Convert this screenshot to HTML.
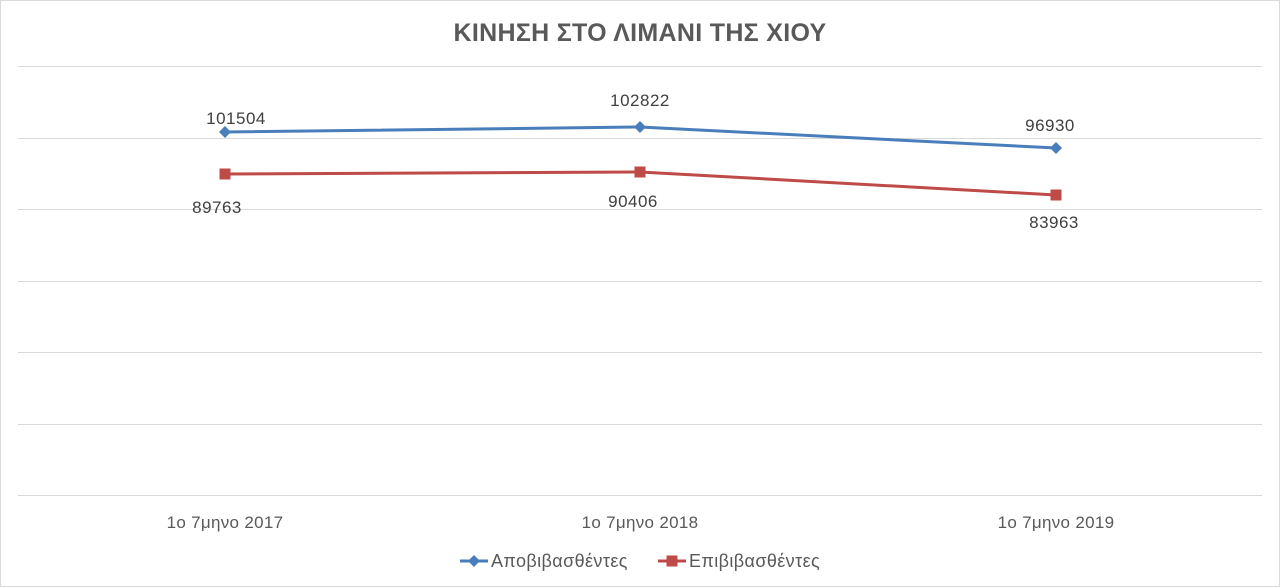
<!DOCTYPE html>
<html><head><meta charset="utf-8"><style>
html,body{margin:0;padding:0;background:#fff;}
svg{display:block;font-family:"Liberation Sans","DejaVu Sans",sans-serif;}
</style></head><body>
<svg width="1280" height="587" viewBox="0 0 1280 587" xmlns="http://www.w3.org/2000/svg">
<rect x="0.5" y="0.5" width="1279" height="586" fill="#fff" stroke="#d9d9d9"/>
<text x="640" y="41" text-anchor="middle" font-size="25" font-weight="bold" fill="#595959" letter-spacing="0.3">ΚΙΝΗΣΗ ΣΤΟ ΛΙΜΑΝΙ ΤΗΣ ΧΙΟΥ</text>
<g stroke="#d9d9d9" stroke-width="1">
<line x1="18" x2="1262" y1="66.5" y2="66.5"/>
<line x1="18" x2="1262" y1="138.5" y2="138.5"/>
<line x1="18" x2="1262" y1="209.5" y2="209.5"/>
<line x1="18" x2="1262" y1="281.5" y2="281.5"/>
<line x1="18" x2="1262" y1="352.5" y2="352.5"/>
<line x1="18" x2="1262" y1="424.5" y2="424.5"/>
<line x1="18" x2="1262" y1="495.5" y2="495.5"/>
</g>
<polyline points="225,132 640,127 1056,148" fill="none" stroke="#4a7ebb" stroke-width="3" stroke-linejoin="round"/>
<g fill="#4a7ebb">
<polygon points="225,126 231,132 225,138 219,132"/>
<polygon points="640,121 646,127 640,133 634,127"/>
<polygon points="1056,142 1062,148 1056,154 1050,148"/>
</g>
<polyline points="225,174 640,172 1056,195" fill="none" stroke="#be4b48" stroke-width="3" stroke-linejoin="round"/>
<g fill="#be4b48">
<rect x="219.5" y="168.5" width="11" height="11"/>
<rect x="634.5" y="166.5" width="11" height="11"/>
<rect x="1050.5" y="189.5" width="11" height="11"/>
</g>
<g font-size="17" fill="#404040" text-anchor="middle" letter-spacing="0.5">
<text x="236" y="124">101504</text>
<text x="640" y="106">102822</text>
<text x="1050" y="131">96930</text>
<text x="217" y="213">89763</text>
<text x="633" y="207">90406</text>
<text x="1054" y="228">83963</text>
</g>
<g font-size="17" fill="#595959" text-anchor="middle" letter-spacing="0.3">
<text x="225" y="528">1ο 7μηνο 2017</text>
<text x="640" y="528">1ο 7μηνο 2018</text>
<text x="1056" y="528">1ο 7μηνο 2019</text>
</g>
<line x1="460" x2="488" y1="561" y2="561" stroke="#4a7ebb" stroke-width="3"/>
<polygon points="474,555 480,561 474,567 468,561" fill="#4a7ebb"/>
<text x="491" y="567" font-size="18" fill="#595959" letter-spacing="0.4">Αποβιβασθέντες</text>
<line x1="658" x2="686" y1="561" y2="561" stroke="#be4b48" stroke-width="3"/>
<rect x="666.5" y="555.5" width="11" height="11" fill="#be4b48"/>
<text x="689" y="567" font-size="18" fill="#595959" letter-spacing="0.4">Επιβιβασθέντες</text>
</svg>
</body></html>
